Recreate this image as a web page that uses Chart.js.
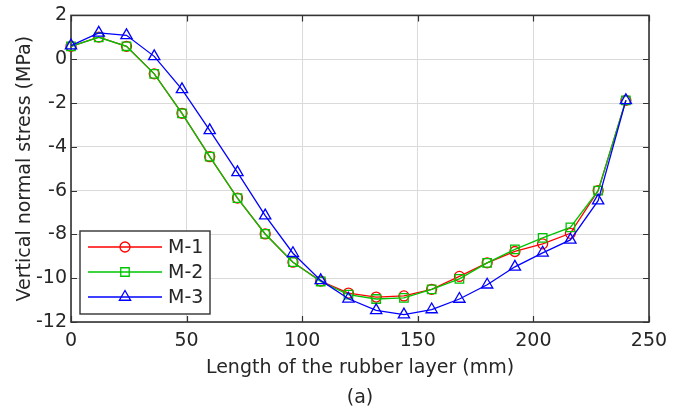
<!DOCTYPE html>
<html>
<head>
<meta charset="utf-8">
<script src="https://cdn.jsdelivr.net/npm/chart.js@4/dist/chart.umd.min.js"></script>
<style>
  html, body { margin: 0; padding: 0; background: #ffffff; }
  #wrap { width: 683px; height: 418px; position: relative; }
</style>
</head>
<body>
<div id="wrap"><canvas id="c" width="683" height="418"></canvas></div>
<script>
// ---- data ----
const lengthMM = [0, 12, 24, 36, 48, 60, 72, 84, 96, 108, 120, 132, 144, 156, 168, 180, 192, 204, 216, 228, 240];
const stressM1 = [0.59, 1.01, 0.59, -0.67, -2.47, -4.45, -6.34, -7.98, -9.27, -10.13, -10.68, -10.86, -10.81, -10.51, -9.92, -9.30, -8.78, -8.43, -7.95, -6.00, -1.88];
const stressM2 = [0.59, 1.00, 0.59, -0.67, -2.47, -4.45, -6.34, -7.98, -9.27, -10.15, -10.75, -10.95, -10.90, -10.51, -10.03, -9.30, -8.68, -8.16, -7.68, -6.00, -1.88];
const stressM3 = [0.62, 1.20, 1.09, 0.13, -1.38, -3.25, -5.17, -7.14, -8.86, -10.10, -10.94, -11.47, -11.66, -11.43, -10.95, -10.30, -9.48, -8.84, -8.25, -6.46, -1.88];
const seriesNames = ['M-1', 'M-2', 'M-3'];
const xTickMin = 0, xTickMax = 250, xTickStep = 50;
const yTickMin = -12, yTickMax = 2, yTickStep = 2;
const xTitle = 'Length of the rubber layer (mm)';
const yTitle = 'Vertical normal stress (MPa)';
const panelLabel = '(a)';

const FONT = 'DejaVu Sans';
const TEXT = '#262626';
const FRAME = '#333333';
const GRID = '#dadada';

function toPoints(ys) { return lengthMM.map((x, i) => ({ x: x, y: ys[i] })); }

function makeSet(name, ys, color, style, radius, order) {
  return {
    label: name,
    data: toPoints(ys),
    borderColor: color,
    backgroundColor: color,
    borderWidth: 1.3,
    pointStyle: style,
    pointRadius: radius,
    pointHoverRadius: radius,
    pointBorderColor: color,
    pointBackgroundColor: 'rgba(255,255,255,0)',
    pointBorderWidth: 1.3,
    tension: 0,
    fill: false,
    clip: false,
    order: order
  };
}

function drawMarker(ctx, style, r, x, y) {
  ctx.beginPath();
  if (style === 'circle') {
    ctx.arc(x, y, r, 0, Math.PI * 2);
  } else if (style === 'rect') {
    const s = Math.SQRT1_2 * r;
    ctx.rect(x - s, y - s, 2 * s, 2 * s);
  } else if (style === 'triangle') {
    let a = 0;
    ctx.moveTo(x + Math.sin(a) * r, y - Math.cos(a) * r);
    a += 2 * Math.PI / 3;
    ctx.lineTo(x + Math.sin(a) * r, y - Math.cos(a) * r);
    a += 2 * Math.PI / 3;
    ctx.lineTo(x + Math.sin(a) * r, y - Math.cos(a) * r);
    ctx.closePath();
  }
  ctx.stroke();
}

const framePlugin = {
  id: 'frame',
  beforeDatasetsDraw(chart) {
    const { ctx, chartArea: a, scales } = chart;
    ctx.save();
    ctx.strokeStyle = FRAME;
    ctx.lineWidth = 1.2;
    const tl = 6;
    ctx.beginPath();
    scales.x.ticks.forEach(t => {
      const px = Math.round(scales.x.getPixelForValue(t.value)) + 0.5;
      ctx.moveTo(px, a.bottom); ctx.lineTo(px, a.bottom - tl);
      ctx.moveTo(px, a.top); ctx.lineTo(px, a.top + tl);
    });
    scales.y.ticks.forEach(t => {
      const py = Math.round(scales.y.getPixelForValue(t.value)) + 0.5;
      ctx.moveTo(a.left, py); ctx.lineTo(a.left + tl, py);
      ctx.moveTo(a.right, py); ctx.lineTo(a.right - tl, py);
    });
    ctx.stroke();
    ctx.lineWidth = 1.6;
    ctx.strokeRect(a.left, a.top, a.right - a.left, a.bottom - a.top);
    ctx.restore();
  }
};

const legendPlugin = {
  id: 'boxLegend',
  afterDatasetsDraw(chart) {
    const { ctx, chartArea: a } = chart;
    const bx = a.left + 9, bw = 130, bh = 83, by = a.bottom - 91;
    ctx.save();
    ctx.fillStyle = '#ffffff';
    ctx.fillRect(bx, by, bw, bh);
    ctx.strokeStyle = FRAME;
    ctx.lineWidth = 1.4;
    ctx.strokeRect(bx, by, bw, bh);
    chart.data.datasets.forEach((ds, i) => {
      const y = by + 16 + i * 25;
      ctx.strokeStyle = ds.borderColor;
      ctx.lineWidth = ds.borderWidth;
      ctx.beginPath();
      ctx.moveTo(bx + 8, y); ctx.lineTo(bx + 82, y);
      ctx.stroke();
      drawMarker(ctx, ds.pointStyle, ds.pointRadius, bx + 45, y);
      ctx.fillStyle = TEXT;
      ctx.font = '19px "' + FONT + '"';
      ctx.textAlign = 'left';
      ctx.textBaseline = 'middle';
      ctx.fillText(ds.label, bx + 88, y + 1);
    });
    ctx.restore();
  }
};

new Chart(document.getElementById('c'), {
  type: 'line',
  data: {
    datasets: [
      makeSet(seriesNames[0], stressM1, '#ff0000', 'circle', 5, 3),
      makeSet(seriesNames[1], stressM2, '#00c400', 'rect', 6, 2),
      makeSet(seriesNames[2], stressM3, '#0000ff', 'triangle', 6.5, 1)
    ]
  },
  options: {
    responsive: false,
    animation: false,
    devicePixelRatio: 1,
    layout: { padding: { left: 0, right: 34, top: 14, bottom: 0 } },
    plugins: {
      legend: { display: false },
      tooltip: { enabled: false },
      title: { display: false }
    },
    scales: {
      x: {
        type: 'linear',
        min: xTickMin, max: xTickMax,
        afterFit(scale) { scale.height = 96; },
        border: { display: false },
        grid: { color: GRID, lineWidth: 1, drawTicks: false },
        ticks: { stepSize: xTickStep, padding: 8, color: TEXT, font: { family: FONT, size: 19 }, maxRotation: 0 },
        title: {
          display: true,
          text: [xTitle, panelLabel],
          color: TEXT,
          font: { family: FONT, size: 19, lineHeight: '30px' },
          padding: { top: 0, bottom: 5 }
        }
      },
      y: {
        type: 'linear',
        min: yTickMin, max: yTickMax,
        afterFit(scale) { scale.width = 71; },
        border: { display: false },
        grid: { color: GRID, lineWidth: 1, drawTicks: false },
        ticks: { stepSize: yTickStep, padding: 4, color: TEXT, font: { family: FONT, size: 19 } },
        title: {
          display: true,
          text: yTitle,
          color: TEXT,
          font: { family: FONT, size: 19 },
          padding: { top: 14, bottom: 0 }
        }
      }
    }
  },
  plugins: [framePlugin, legendPlugin]
});
</script>
</body>
</html>
